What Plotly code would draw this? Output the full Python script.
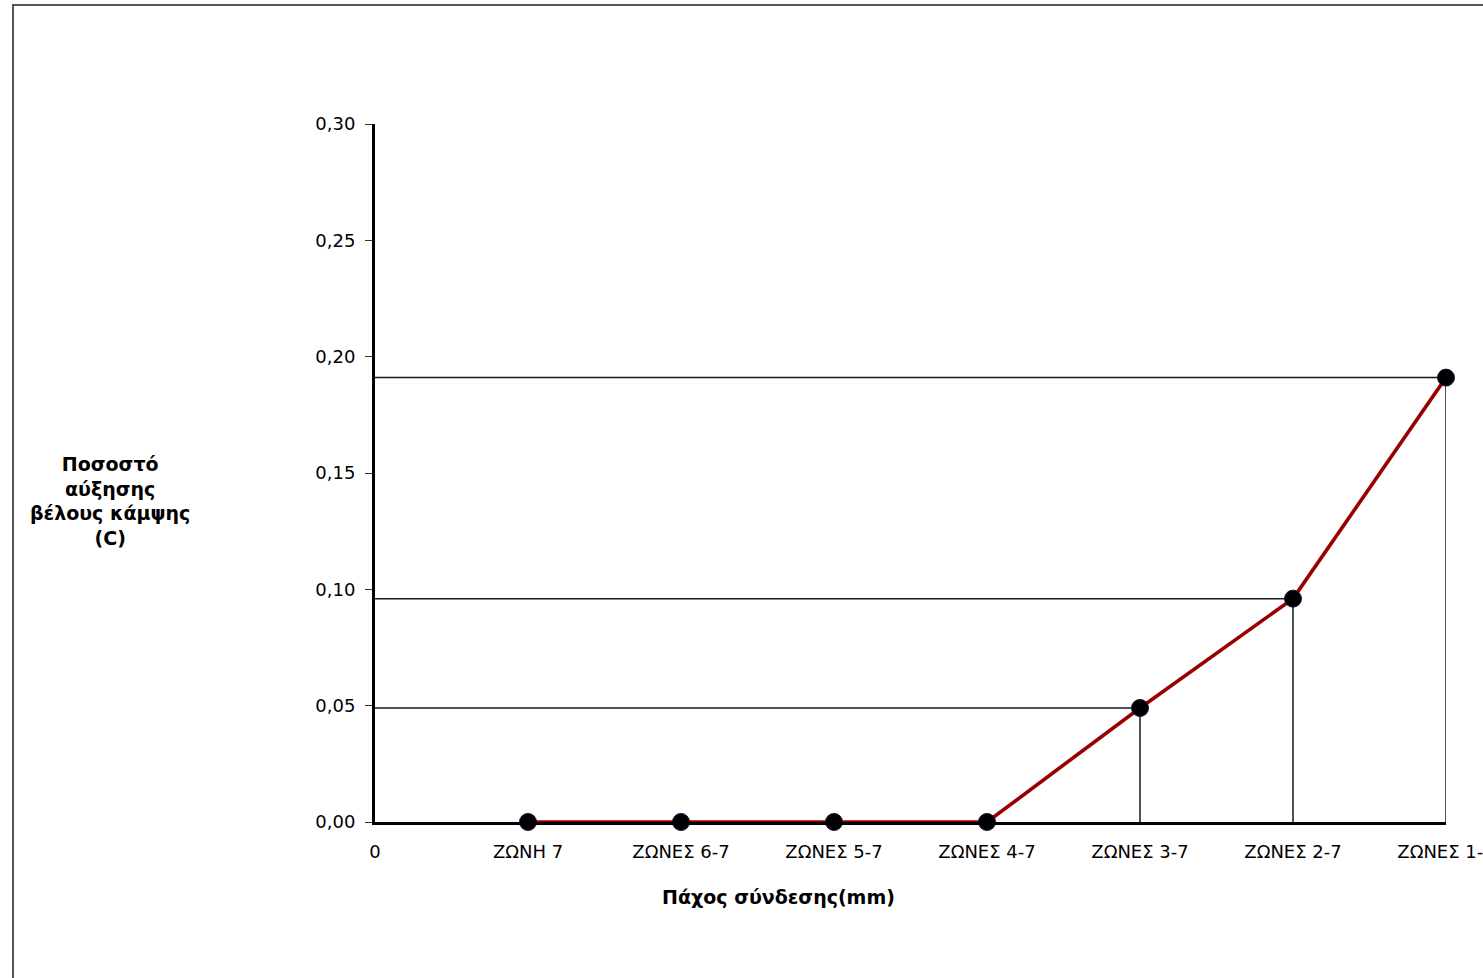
import plotly.graph_objects as go

# Category labels along the horizontal axis (index 0 is the origin label)
categories = ["0", "ΖΩΝΗ 7", "ΖΩΝΕΣ 6-7", "ΖΩΝΕΣ 5-7", "ΖΩΝΕΣ 4-7",
              "ΖΩΝΕΣ 3-7", "ΖΩΝΕΣ 2-7", "ΖΩΝΕΣ 1-7"]
# Increase in bending deflection for each zone configuration
series_x = [1, 2, 3, 4, 5, 6, 7]
series_y = [0.0, 0.0, 0.0, 0.0, 0.049, 0.096, 0.191]
y_ticks = [0.0, 0.05, 0.10, 0.15, 0.20, 0.25, 0.30]

FONT = "DejaVu Sans"

fig = go.Figure()

# Guide lines from the y axis to each non-zero point and down to the x axis
for xv, yv in zip(series_x, series_y):
    if yv > 0:
        fig.add_trace(go.Scatter(
            x=[0, xv, xv], y=[yv, yv, 0], mode="lines",
            line=dict(color="#1a1a1a", width=1.5),
            hoverinfo="skip", showlegend=False, cliponaxis=False,
        ))

fig.add_trace(go.Scatter(
    x=series_x, y=series_y, mode="lines+markers",
    line=dict(color="#990000", width=3.6),
    marker=dict(color="black", size=17, line=dict(color="#1a1040", width=1)),
    showlegend=False, cliponaxis=False,
))

fig.update_layout(
    width=1483, height=978,
    margin=dict(l=375, r=37, t=124, b=156),
    paper_bgcolor="white", plot_bgcolor="white",
    separators=",.",
    font=dict(family=FONT, size=18, color="black"),
    xaxis=dict(
        range=[0, 7], tickmode="array",
        tickvals=list(range(len(categories))), ticktext=categories,
        showgrid=False, zeroline=False,
        showline=True, linecolor="black", linewidth=3,
        ticks="", ticklabelstandoff=11, ticklabeloverflow="allow",
        automargin=False,
        tickfont=dict(family=FONT, size=18),
    ),
    yaxis=dict(
        range=[0, 0.30], tickmode="array", tickvals=y_ticks,
        tickformat=".2f",
        showgrid=False, zeroline=False,
        showline=True, linecolor="black", linewidth=3,
        ticks="outside", ticklen=7, tickwidth=1, tickcolor="#333",
        ticklabelstandoff=6, automargin=False,
        tickfont=dict(family=FONT, size=18),
    ),
    shapes=[dict(
        type="rect", xref="paper", yref="paper",
        x0=-0.338, x1=2.0, y0=-1.0, y1=1.1705,
        line=dict(color="#555555", width=2), fillcolor="rgba(0,0,0,0)",
        layer="below",
    )],
    annotations=[
        dict(text="<b>Ποσοστό<br>αύξησης<br>βέλους κάμψης<br>(C)</b>",
             xref="paper", yref="paper", x=-0.2474, y=0.46,
             xanchor="center", yanchor="middle", showarrow=False,
             align="center", font=dict(family=FONT, size=19)),
        dict(text="<b>Πάχος σύνδεσης(mm)</b>",
             xref="paper", yref="paper", x=0.377, y=-0.1075,
             xanchor="center", yanchor="middle", showarrow=False,
             font=dict(family=FONT, size=19)),
    ],
)

fig.write_html("out.html")
